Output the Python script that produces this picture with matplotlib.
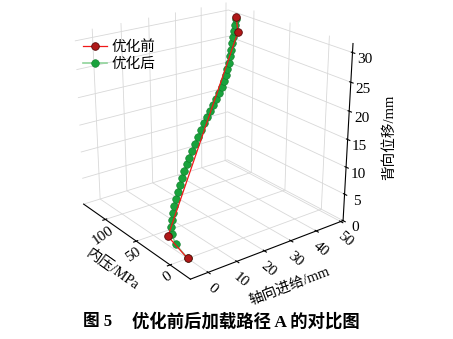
import matplotlib
matplotlib.use('Agg')
import matplotlib.pyplot as plt

plt.rcParams['font.family'] = ['Liberation Serif', 'Noto Sans CJK SC']
plt.rcParams['grid.color'] = '#d8d8d8'
plt.rcParams['grid.linewidth'] = 0.6

# 优化前: 轴向进给/mm, 内压/MPa, 背向位移/mm
feed_before = [0, 3, 46, 48]
pres_before = [0, 41, 105, 115]
disp_before = [0, 0, 27.8, 29.9]

# 优化后
feed_after = [0, 1.3, 2.7, 4.0, 5.4, 6.7, 8.1, 9.4, 10.7, 12.1, 13.4, 14.8, 16.1, 17.5,
              18.8, 20.1, 21.5, 22.8, 24.2, 25.5, 26.9, 28.2, 29.5, 30.9, 32.2, 33.6,
              34.9, 36.3, 37.6, 38.9, 40.3, 41.6, 43.0, 44.3, 45.7, 47.0]
pres_after = [0, 22, 34, 40, 45, 49, 52, 55, 57, 60, 62, 64, 66, 68, 69, 70, 70, 71, 72,
              73, 74, 74, 75, 76, 77, 79, 81, 84, 87, 90, 94, 97, 101, 105, 108, 112]
disp_after = [0, 0.4, 1.0, 1.6, 2.3, 3.1, 3.8, 4.7, 5.6, 6.5, 7.5, 8.4, 9.3, 10.2, 11.2,
              12.3, 13.3, 14.3, 15.3, 16.2, 17.1, 18.0, 18.9, 19.8, 20.7, 21.5, 22.3,
              23.1, 23.9, 24.8, 25.7, 26.6, 27.4, 28.2, 29.0, 29.8]

fig = plt.figure(figsize=(4.53, 3.39), dpi=100)
ax = fig.add_axes([-0.018, 0.16, 0.95, 0.9], projection='3d')
ax.computed_zorder = False
ax.view_init(elev=22, azim=-127)
ax.set_proj_type('persp', focal_length=0.6)
ax.set_box_aspect((1, 1, 0.98), zoom=1.05)

for a in (ax.xaxis, ax.yaxis, ax.zaxis):
    a.set_pane_color((1, 1, 1, 0))
    a.pane.set_edgecolor('black')
    a.line.set_color('black')
ax.zaxis.set_ticks_position('lower')
ax.zaxis.set_label_position('lower')

ax.plot(feed_after, pres_after, disp_after, color='#8fd39a', lw=1.2, marker='o',
        ms=5.5, mfc='#19a23c', mec='#0f7a2a', mew=0.4, label='优化后', zorder=2)
ax.plot(feed_before, pres_before, disp_before, color='#f01818', lw=0.9, marker='o',
        ms=5.5, mfc='#b01818', mec='#5a0a0a', mew=0.6, label='优化前', zorder=3)

ax.set_xlim(-6, 51)
ax.set_ylim(-28, 138)
ax.set_zlim(0, 31.5)
ax.set_xticks([0, 10, 20, 30, 40, 50])
ax.set_yticks([0, 50, 100])
ax.set_zticks([0, 5, 10, 15, 20, 25, 30])
ax.tick_params(labelsize=11, pad=-3)
ax.tick_params(axis='x', labelrotation=-40, pad=-4)
ax.tick_params(axis='y', labelrotation=35, pad=-6)
ax.set_xlabel('轴向进给/mm', fontsize=10.5, labelpad=-4)
ax.set_ylabel('内压/MPa', fontsize=10.5, labelpad=-6)
ax.zaxis.set_rotate_label(False)
ax.set_zlabel('背向位移/mm', fontsize=10.5, rotation=90, labelpad=-4)

h, l = ax.get_legend_handles_labels()
ax.legend(h[::-1], l[::-1], loc='upper left', bbox_to_anchor=(0.155, 0.92),
          bbox_transform=fig.transFigure, frameon=False, fontsize=10.5,
          handlelength=1.6, handletextpad=0.3, labelspacing=0.25)

fig.text(83 / 453, 0.05, '图 5', ha='left', va='center', fontsize=12, weight='bold')
fig.text(132 / 453, 0.05, '优化前后加载路径 A 的对比图', ha='left', va='center',
         fontsize=12.5, weight='bold')

fig.savefig('out.png', dpi=100)
